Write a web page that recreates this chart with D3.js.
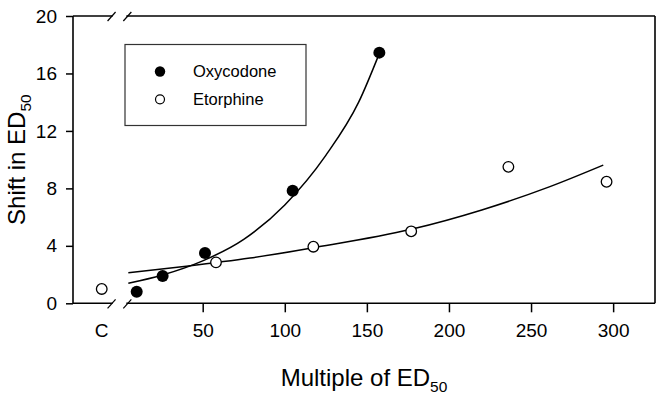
<!DOCTYPE html>
<html><head><meta charset="utf-8">
<script src="https://cdn.jsdelivr.net/npm/d3@7"></script>
<style>body{margin:0;background:#fff}svg{display:block;font-family:"Liberation Sans",Arial,sans-serif}</style>
</head><body><svg id="c" width="663" height="404"></svg>
<script>
// data
const oxyDose = [9.8, 25.6, 51.4, 104.8, 157.6];
const oxyShift = [0.81, 1.9, 3.5, 7.84, 17.45];
const etoDose = [58.1, 117.4, 177.0, 236.2, 296.0];
const etoShift = [2.85, 3.94, 5.01, 9.5, 8.46];
const controlShiftEto = 1.0;
const controlPos = -11.5;              // axis position of "C"
// fitted curves
const oxyCurveX = [4.7, 25, 50, 75, 100, 125, 145, 157.6];
const oxyCurveY = [1.39, 1.95, 2.95, 4.45, 6.85, 10.3, 14.0, 17.4];
const etoCurveX = [4.7, 40, 78.8, 117.4, 177, 220, 261.5, 294];
const etoCurveY = [2.13, 2.58, 3.15, 3.87, 5.15, 6.5, 8.12, 9.62];
const xTicks = [50, 100, 150, 200, 250, 300];
const yTicks = [0, 4, 8, 12, 16, 20];
const breakAt = [-5.5, 4.1];

const svg = d3.select("#c");
const L = 73, R = 655, T = 16, B = 303.3;
const x = d3.scaleLinear().domain([-29, 325.5]).range([L, R]);
const y = d3.scaleLinear().domain([0, 20]).range([B, T]);
const FF = "Liberation Sans, Arial, sans-serif";

// x axis ticks
const xa = svg.append("g").attr("transform", `translate(0,${B})`)
  .call(d3.axisBottom(x).tickValues(xTicks).tickSize(9).tickSizeOuter(0).tickPadding(11));
xa.select(".domain").remove();
xa.selectAll("line").attr("stroke", "#000").attr("stroke-width", 1.5);
xa.selectAll("text").attr("font-size", 19).attr("fill", "#000").attr("font-family", FF);
xa.append("text").attr("x", x(controlPos)).attr("y", 20).attr("dy", "0.71em").attr("text-anchor", "middle")
  .attr("font-size", 19).attr("fill", "#000").text("C");

// y axis
const ya = svg.append("g").attr("transform", `translate(${L},0)`)
  .call(d3.axisLeft(y).tickValues(yTicks).tickSize(7).tickSizeOuter(0).tickPadding(9));
ya.select(".domain").remove();
ya.selectAll("line").attr("stroke", "#000").attr("stroke-width", 1.5);
ya.selectAll("text").attr("font-size", 19).attr("fill", "#000").attr("font-family", FF);

// frame with breaks
const fr = svg.append("g").attr("stroke", "#000").attr("stroke-width", 1.6).attr("fill", "none");
fr.append("line").attr("x1", L).attr("x2", L).attr("y1", T).attr("y2", B);
fr.append("line").attr("x1", R).attr("x2", R).attr("y1", T).attr("y2", B);
[T, B].forEach(yy => {
  fr.append("line").attr("x1", L).attr("x2", x(breakAt[0]) + 1).attr("y1", yy).attr("y2", yy);
  fr.append("line").attr("x1", x(breakAt[1]) - 1).attr("x2", R).attr("y1", yy).attr("y2", yy);
  breakAt.forEach(b => {
    fr.append("line").attr("x1", x(b) - 4).attr("y1", yy + 5).attr("x2", x(b) + 4).attr("y2", yy - 4)
      .attr("stroke-width", 1.2);
  });
});

// curves
const line = d3.line().x(d => x(d[0])).y(d => y(d[1])).curve(d3.curveMonotoneX);
svg.append("path").datum(oxyCurveX.map((v, i) => [v, oxyCurveY[i]]))
  .attr("d", line).attr("fill", "none").attr("stroke", "#000").attr("stroke-width", 1.5);
svg.append("path").datum(etoCurveX.map((v, i) => [v, etoCurveY[i]]))
  .attr("d", line).attr("fill", "none").attr("stroke", "#000").attr("stroke-width", 1.5);

// points
svg.selectAll(".oxy").data(oxyDose).enter().append("circle")
  .attr("cx", d => x(d)).attr("cy", (d, i) => y(oxyShift[i])).attr("r", 6).attr("fill", "#000");
svg.selectAll(".eto").data(etoDose).enter().append("circle")
  .attr("cx", d => x(d)).attr("cy", (d, i) => y(etoShift[i])).attr("r", 5.3)
  .attr("fill", "#fff").attr("stroke", "#000").attr("stroke-width", 1.3);
svg.append("circle").attr("cx", x(controlPos)).attr("cy", y(controlShiftEto)).attr("r", 5.3)
  .attr("fill", "#fff").attr("stroke", "#000").attr("stroke-width", 1.3);

// legend
const lg = svg.append("g");
lg.append("rect").attr("x", 125).attr("y", 44.5).attr("width", 181).attr("height", 81)
  .attr("fill", "#fff").attr("stroke", "#333").attr("stroke-width", 1.2);
lg.append("circle").attr("cx", 160).attr("cy", 71.5).attr("r", 5.2).attr("fill", "#000");
lg.append("circle").attr("cx", 160).attr("cy", 99.3).attr("r", 4.5).attr("fill", "#fff").attr("stroke", "#000").attr("stroke-width", 1.2);
lg.append("text").attr("x", 193).attr("y", 71.5).attr("dy", "0.36em").attr("font-size", 16.5).text("Oxycodone");
lg.append("text").attr("x", 193).attr("y", 99.3).attr("dy", "0.36em").attr("font-size", 16.5).text("Etorphine");

// titles
const xt = svg.append("text").attr("x", (L + R) / 2).attr("y", 386).attr("text-anchor", "middle").attr("font-size", 24);
xt.append("tspan").text("Multiple of ED");
xt.append("tspan").attr("font-size", 15.5).attr("dy", 6).text("50");
const yt = svg.append("text").attr("transform", `translate(25,${(T + B) / 2}) rotate(-90)`)
  .attr("text-anchor", "middle").attr("font-size", 24);
yt.append("tspan").text("Shift in ED");
yt.append("tspan").attr("font-size", 15.5).attr("dy", 6).text("50");
</script></body></html>
